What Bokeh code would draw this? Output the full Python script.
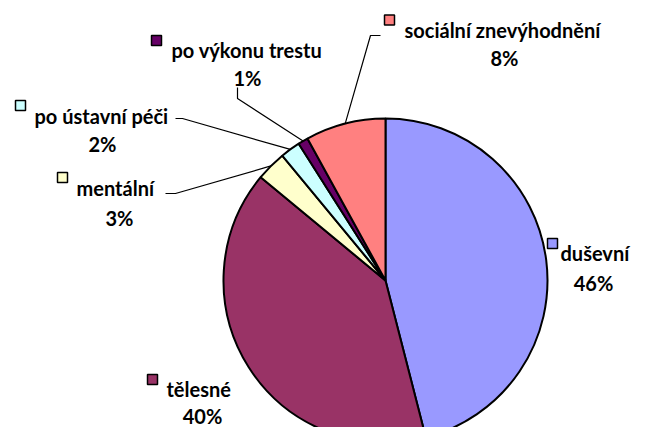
import math
from bokeh.plotting import figure
from bokeh.models import Range1d, ColumnDataSource
from bokeh.core.properties import value
from bokeh.embed import file_html
from bokeh.resources import INLINE

# ---- data ----
categories = ["duševní", "tělesné", "mentální", "po ústavní péči",
              "po výkonu trestu", "sociální znevýhodnění"]
values = [46, 40, 3, 2, 1, 8]
pct_labels = ["46%", "40%", "3%", "2%", "1%", "8%"]
colors = ["#9999FF", "#993366", "#FFFFCC", "#CCFFFF", "#660066", "#FF8080"]

# ---- layout (page pixel coordinates) ----
W, H = 631, 427
CX, CY, R = 385, 280, 162
FONT = "Lato"
FSIZE = "20px"

# box centre, text start x, name baseline, pct centre x, pct baseline
label_pos = [
    ((552, 243), 560, 252, 593, 282),
    ((152, 379), 166, 388, 202, 415),
    ((62, 177), 76, 187, 119, 217),
    ((20, 105), 34, 115, 102, 143),
    ((156, 40), 171, 49, 247, 77),
    ((389, 19.5), 404, 29.5, 504, 57),
]
# leader line anchor points near label (None = no leader)
leaders = [None, None,
           [(165, 193), (175, 193)],
           [(175, 118), (182, 118)],
           [(237, 87), (237, 98)],
           [(380, 35), (370, 35)]]


def Y(py):
    return H - py


p = figure(width=W, height=H, x_range=Range1d(0, W), y_range=Range1d(0, H),
           output_backend="svg", toolbar_location=None,
           min_border=0, min_border_left=0, min_border_right=0,
           min_border_top=0, min_border_bottom=0)
p.axis.visible = False
p.grid.visible = False
p.outline_line_color = None
p.background_fill_color = "white"
p.border_fill_color = "white"

total = float(sum(values))
starts, ends, mids = [], [], []
c = 0.0
for v in values:
    a0 = math.pi / 2 - 2 * math.pi * c / total
    c += v
    a1 = math.pi / 2 - 2 * math.pi * c / total
    starts.append(a0)
    ends.append(a1)
    mids.append((a0 + a1) / 2)

src = ColumnDataSource(dict(start=starts, end=ends, color=colors, cat=categories))
p.wedge(x=CX, y=Y(CY), radius=R, start_angle="start", end_angle="end",
        direction="clock", fill_color="color", line_color="black", line_width=2,
        source=src)

# leader lines
for i, ld in enumerate(leaders):
    if ld is None:
        continue
    ex = CX + R * math.cos(mids[i])
    ey = Y(CY) + R * math.sin(mids[i])
    xs = [pt[0] for pt in ld] + [ex]
    ys = [Y(pt[1]) for pt in ld] + [ey]
    p.line(xs, ys, line_color="black", line_width=1.2)

# legend-like boxes and labels
for i, (box, tx, nb, px, pb) in enumerate(label_pos):
    p.rect(x=box[0], y=Y(box[1]), width=10, height=10, fill_color=colors[i],
           line_color="black", line_width=1.5)
    p.text(x=[tx], y=[Y(nb)], text=[categories[i]], text_font=value(FONT),
           text_font_style="bold", text_font_size=FSIZE, text_align="left",
           text_baseline="alphabetic", text_color="black")
    p.text(x=[px], y=[Y(pb)], text=[pct_labels[i]], text_font=value(FONT),
           text_font_style="bold", text_font_size=FSIZE, text_align="center",
           text_baseline="alphabetic", text_color="black")

open("out.html", "w").write(file_html(p, INLINE))
